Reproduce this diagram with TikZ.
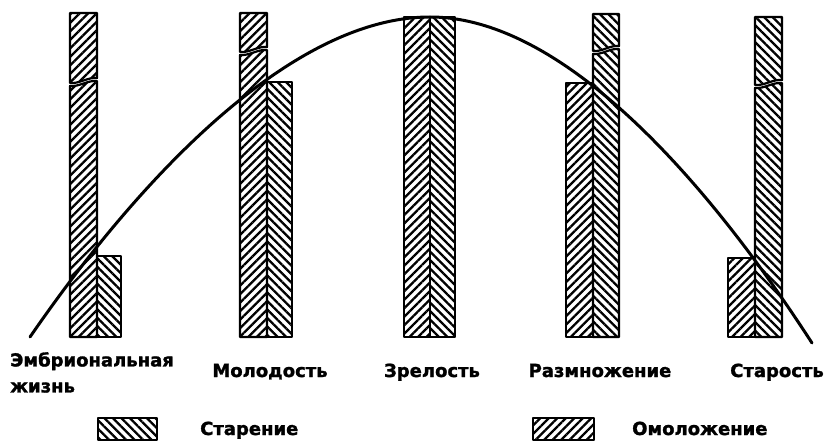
\documentclass[tikz,border=0pt]{standalone}
\usepackage{fontspec}
\setmainfont{DejaVu Sans}[BoldFeatures={FakeBold=1.5}]
\usetikzlibrary{patterns.meta}

\tikzset{
  bar/.style={draw=black, line width=2.2pt, line join=round},
  aging/.style={bar, pattern={Lines[angle=-45,distance=6pt,line width=2.3pt]}},
  renew/.style={bar, pattern={Lines[angle=45,distance=6pt,line width=2.3pt]}},
  stage/.style={font=\bfseries\fontsize{18}{26}\selectfont, inner sep=0pt},
  lifecurve/.style={line width=3pt, line cap=round}
}

% broken bar: style, left, right, top, break, bottom
\newcommand{\brokenbar}[6]{%
  \draw[#1] (#2,#4) -- (#3,#4) -- (#3,#5-4)
    .. controls ({#3-9},{#5-5}) and ({#2+9},{#5+2}) .. (#2,#5+1) -- cycle;
  \draw[#1] (#2,#5+4)
    .. controls ({#2+9},{#5+5}) and ({#3-9},{#5-2}) .. (#3,#5-1)
    -- (#3,#6) -- (#2,#6) -- cycle;
}

\begin{document}
\begin{tikzpicture}[x=1pt,y=-1pt]
  \useasboundingbox (0,0) rectangle (830,441);

  % Bars
  \brokenbar{renew}{70}{97}{13}{82}{337}
  \draw[aging] (97,256) rectangle (121,337);

  \brokenbar{renew}{240}{267}{13}{51}{337}
  \draw[aging] (267,82) rectangle (292,337);

  \draw[renew] (404,17) rectangle (430,337);
  \draw[aging] (430,17) rectangle (455,337);

  \draw[renew] (566,83) rectangle (593,337);
  \brokenbar{aging}{593}{619}{14}{50}{337}

  \draw[renew] (728,258) rectangle (755,337);
  \brokenbar{aging}{755}{782}{17}{84}{337}

  % Curve
  \coordinate (cstart) at (30,337);
  \coordinate (ctop) at (430,17);
  \coordinate (cend) at (812,343);
  \draw[lifecurve] (cstart) .. controls (145,170) and (295,17) .. (ctop)
    .. controls (560,17) and (702,173) .. (cend);

  % Labels
  \node[stage, anchor=north west, align=left] (embryo) at (10,352) {Эмбриональная\\жизнь};
  \node[stage, anchor=base] (youth) at (270,377) {Молодость};
  \node[stage, anchor=base] (mature) at (432,377) {Зрелость};
  \node[stage, anchor=base] (breed) at (600,377) {Размножение};
  \node[stage, anchor=base] (old) at (777,377) {Старость};

  % Legend
  \node[aging, minimum width=59pt, minimum height=22pt, anchor=north west, inner sep=0pt] (agekey) at (97,417) {};
  \node[stage, anchor=base west] (agetext) at (200,435) {Старение};
  \node[renew, minimum width=61pt, minimum height=22pt, anchor=north west, inner sep=0pt] (newkey) at (532,417) {};
  \node[stage, anchor=base west] (newtext) at (632,435) {Омоложение};
\end{tikzpicture}
\end{document}
